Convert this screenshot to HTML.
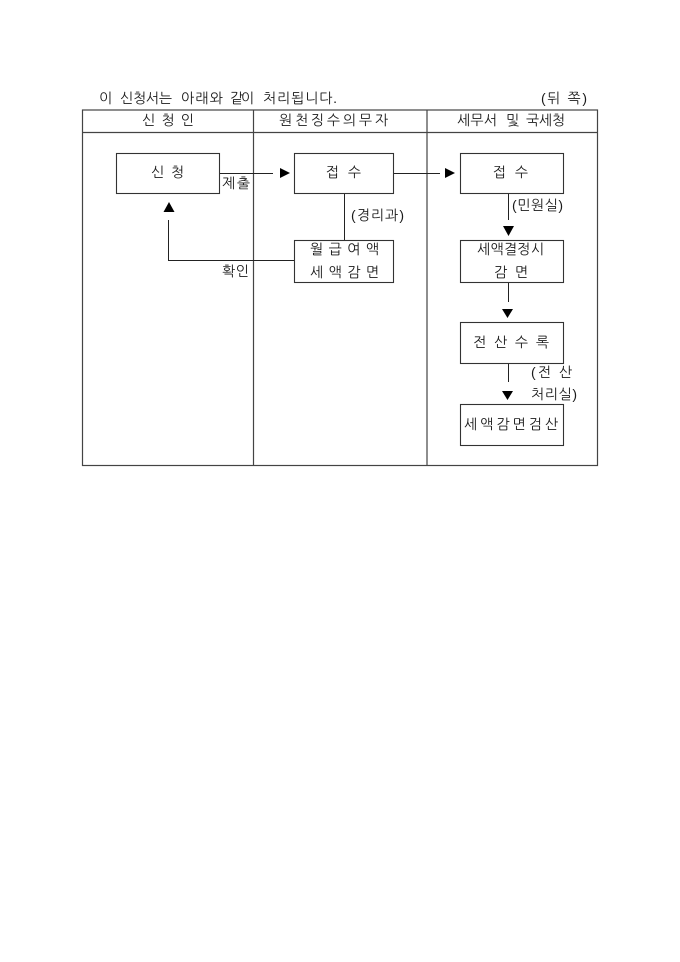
<!DOCTYPE html>
<html><head><meta charset="utf-8"><style>
html,body{margin:0;padding:0;background:#fff;width:680px;height:962px;overflow:hidden}
svg{display:block}
text{font-family:"Liberation Sans","NanumGothic","Noto Sans CJK KR",sans-serif;font-size:14px;fill:#1a1a1a}
</style></head><body>
<svg width="680" height="962" viewBox="0 0 680 962" xmlns="http://www.w3.org/2000/svg">
<rect width="680" height="962" fill="#fff"/>
<g fill="none" stroke="#444" stroke-width="1.2">
<rect x="82.5" y="110" width="515" height="355.500"/>
<path d="M83 132.500H597M253.500 110V465M427 110V465"/>
</g>
<g fill="#fff" stroke="#333" stroke-width="1.100">
<rect x="116.500" y="153.500" width="103" height="40"/>
<rect x="294.500" y="153.500" width="99" height="40"/>
<rect x="460.500" y="153.500" width="103" height="40"/>
<rect x="294.500" y="240.500" width="99" height="42"/>
<rect x="460.500" y="240.500" width="103" height="42"/>
<rect x="460.500" y="322.500" width="103" height="41"/>
<rect x="460.500" y="404.500" width="103" height="41"/>
</g>
<g fill="none" stroke="#222" stroke-width="1">
<path d="M220 173.500H273M394 173.500H440M344.500 194V240M168.500 220V260.500H294M508.500 194V220M508.500 283V302M508.500 364V382"/>
</g>
<g fill="#000">
<path d="M280 168L290 173L280 178Z"/>
<path d="M445 168L455 173L445 178Z"/>
<path d="M169 202L174.500 212H163.500Z"/>
<path d="M503 226H514L508.500 236Z"/>
<path d="M502 309H513L507.500 318Z"/>
<path d="M502 391H513L507.500 400Z"/>
</g>
<text x="99" y="103">이</text>
<text x="120" y="103" textLength="52" lengthAdjust="spacing">신청서는</text>
<text x="181" y="103" textLength="42" lengthAdjust="spacing">아래와</text>
<text x="230" y="103" textLength="24" lengthAdjust="spacing">같이</text>
<text x="263" y="103" textLength="74" lengthAdjust="spacing">처리됩니다.</text>
<text x="541" y="103" textLength="46" lengthAdjust="spacing">(뒤 쪽)</text>
<text x="142" y="125" textLength="52" lengthAdjust="spacing">신 청 인</text>
<text x="279" y="125" textLength="109" lengthAdjust="spacing">원천징수의무자</text>
<text x="457" y="125" textLength="40" lengthAdjust="spacing">세무서</text>
<text x="506" y="125">및</text>
<text x="526" y="125" textLength="39" lengthAdjust="spacing">국세청</text>
<text x="151" y="177" textLength="33" lengthAdjust="spacing">신 청</text>
<text x="326" y="177" textLength="35" lengthAdjust="spacing">접 수</text>
<text x="493" y="177" textLength="35" lengthAdjust="spacing">접 수</text>
<text x="222" y="188" textLength="28" lengthAdjust="spacing">제출</text>
<text x="222" y="276" textLength="27" lengthAdjust="spacing">확인</text>
<text x="351" y="220" textLength="53" lengthAdjust="spacing">(경리과)</text>
<text x="512" y="210" textLength="51" lengthAdjust="spacing">(민원실)</text>
<text x="310" y="254" textLength="69" lengthAdjust="spacing">월 급 여 액</text>
<text x="310" y="277" textLength="69" lengthAdjust="spacing">세 액 감 면</text>
<text x="477" y="254" textLength="67" lengthAdjust="spacing">세액결정시</text>
<text x="494" y="277" textLength="34" lengthAdjust="spacing">감 면</text>
<text x="473" y="347" textLength="76" lengthAdjust="spacing">전 산 수 록</text>
<text x="531" y="377" textLength="41" lengthAdjust="spacing">(전 산</text>
<text x="531" y="399" textLength="46" lengthAdjust="spacing">처리실)</text>
<text x="464" y="429" textLength="94" lengthAdjust="spacing">세 액 감 면 검 산</text>
</svg>
</body></html>
